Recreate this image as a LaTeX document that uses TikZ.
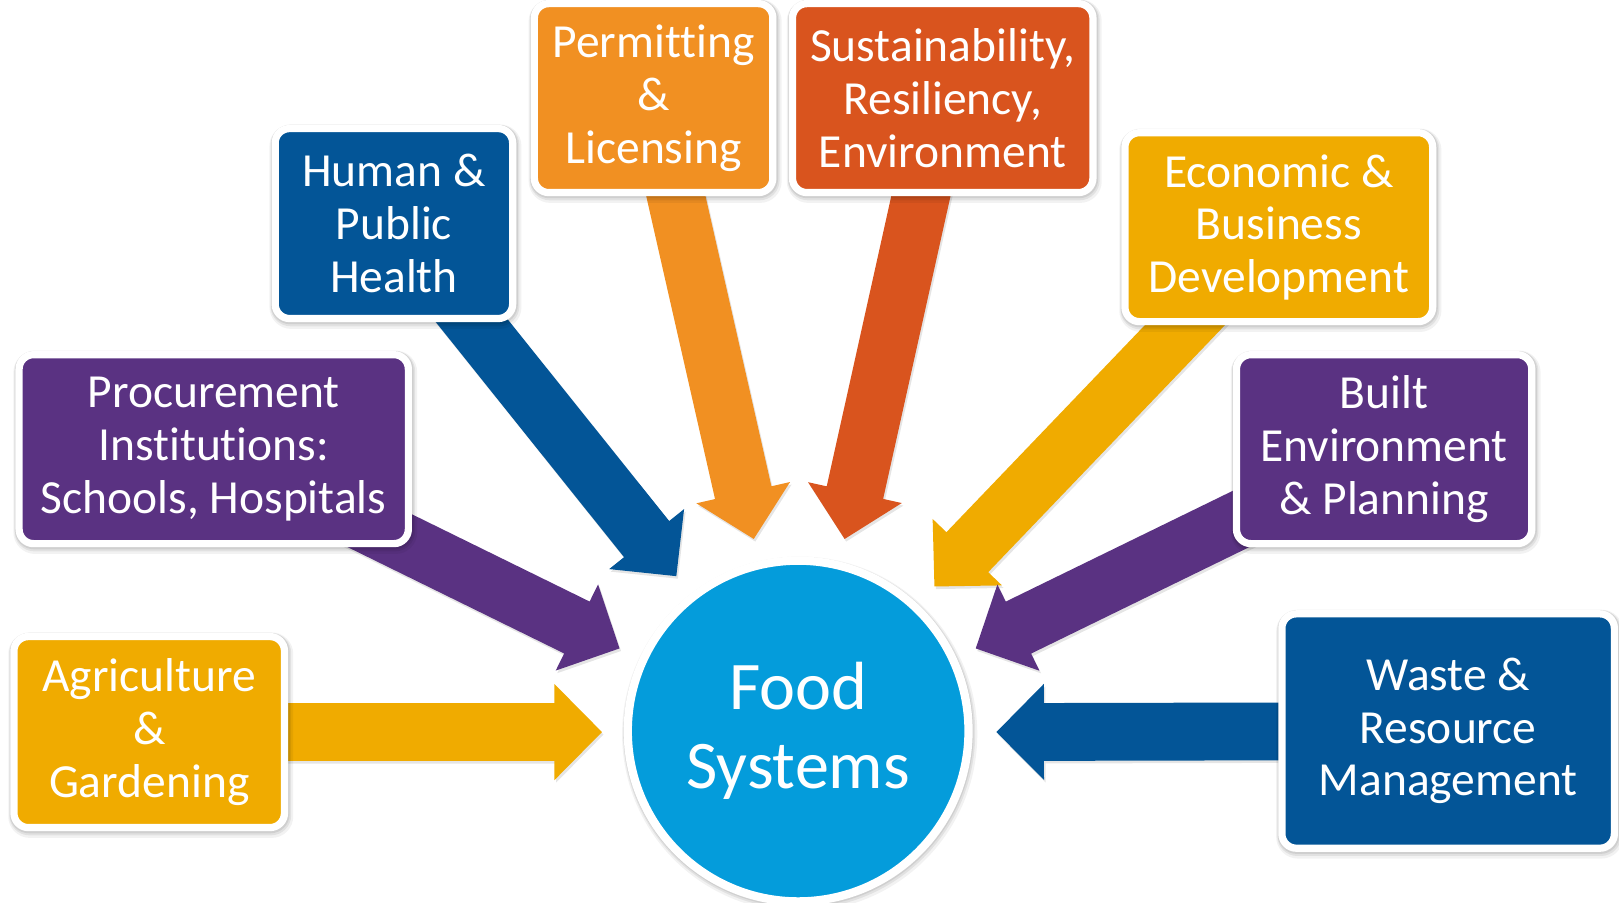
\documentclass[tikz,border=0pt]{standalone}
\usepackage{fontspec}
\setmainfont{Carlito}[Ligatures=NoCommon]
\usetikzlibrary{calc}
\pgfdeclarelayer{bg}
\pgfsetlayers{bg,main}
\definecolor{cyel}{HTML}{F0AB00}
\definecolor{cpur}{HTML}{5A3282}
\definecolor{cblu}{HTML}{035597}
\definecolor{corg}{HTML}{F19022}
\definecolor{cred}{HTML}{D9541E}
\definecolor{ccir}{HTML}{049CDB}
\newcommand\blockarrow[3]{%
  \path (#2); \pgfgetlastxy{\axa}{\aya}%
  \path (#3); \pgfgetlastxy{\axb}{\ayb}%
  \pgfmathsetmacro\arang{atan2(\ayb-\aya,\axb-\axa)}%
  \pgfmathsetmacro\arlen{veclen(\axb-\axa,\ayb-\aya)}%
  \begin{pgfonlayer}{bg}
  \fill[#1, arrowshade, shift={(#3)}, rotate=\arang] (0pt,0pt) -- (-46pt,46.5pt) -- (-46pt,28pt) -- (-\arlen pt,28pt) -- (-\arlen pt,-28pt) -- (-46pt,-28pt) -- (-46pt,-46.5pt) -- cycle;
  \end{pgfonlayer}
}
\tikzset{
  halo/.style={
    preaction={draw=black, opacity=0.05, line width=14pt, transform canvas={xshift=1.5pt,yshift=-3pt}},
    preaction={draw=black, opacity=0.07, line width=11pt, transform canvas={xshift=1pt,yshift=-2pt}},
    preaction={draw=black, opacity=0.08, line width=9pt, transform canvas={xshift=0.5pt,yshift=-1pt}}},
  arrowshade/.style={
    preaction={fill=black, opacity=0.10, transform canvas={xshift=1.5pt,yshift=-2.5pt}}},
  box/.style={rounded corners=14pt, draw=white, line width=7pt, text=white, align=center,
    inner sep=0pt, font=\fontsize{46}{51}\selectfont, halo},
}
\begin{document}
\begin{tikzpicture}[x=1pt,y=-1pt]
\useasboundingbox (0,0) rectangle (1568,874);
\node[box, fill=cyel, minimum width=262pt, minimum height=185pt] (agri) at (144.5,709) {Agriculture\\\&\\Gardening};
\node[box, fill=cpur, minimum width=377pt, minimum height=183pt] (proc) at (207,435) {Procurement\\Institutions:\\Schools, Hospitals};
\node[box, fill=cblu, minimum width=230pt, minimum height=184pt] (hum) at (381.5,216.5) {Human \&\\Public\\Health};
\node[box, fill=corg, minimum width=231pt, minimum height=183pt] (perm) at (633,95) {Permitting\\\&\\Licensing};
\node[box, fill=cred, minimum width=291pt, minimum height=183pt] (sust) at (913,95) {Sustainability,\\Resiliency,\\Environment};
\node[box, fill=cyel, minimum width=298pt, minimum height=183pt] (econ) at (1238.5,220) {Economic \&\\Business\\Development};
\node[box, fill=cpur, minimum width=286pt, minimum height=183pt] (built) at (1340.5,435) {Built\\Environment\\\& Planning};
\node[box, fill=cblu, minimum width=322pt, minimum height=227pt] (waste) at (1402.5,708) {Waste \&\\Resource\\Management};
\node[circle, fill=ccir, draw=white, line width=8pt, minimum size=330pt, text=white, align=center,
  font=\fontsize{66}{76}\selectfont, halo] (food) at (773,708) {Food\\Systems};
\coordinate (tagri) at (583,709);
\coordinate (tproc) at (600,628);
\coordinate (thum) at (655,558);
\coordinate (tperm) at (730,522);
\coordinate (tsust) at (818,522);
\coordinate (tecon) at (905,568);
\coordinate (tbuilt) at (945,628);
\coordinate (twaste) at (965,709);
\blockarrow{cyel}{agri}{tagri}
\blockarrow{cpur}{proc}{tproc}
\blockarrow{cblu}{hum}{thum}
\blockarrow{corg}{perm}{tperm}
\blockarrow{cred}{sust}{tsust}
\blockarrow{cyel}{econ}{tecon}
\blockarrow{cpur}{built}{tbuilt}
\blockarrow{cblu}{waste}{twaste}
\end{tikzpicture}
\end{document}
